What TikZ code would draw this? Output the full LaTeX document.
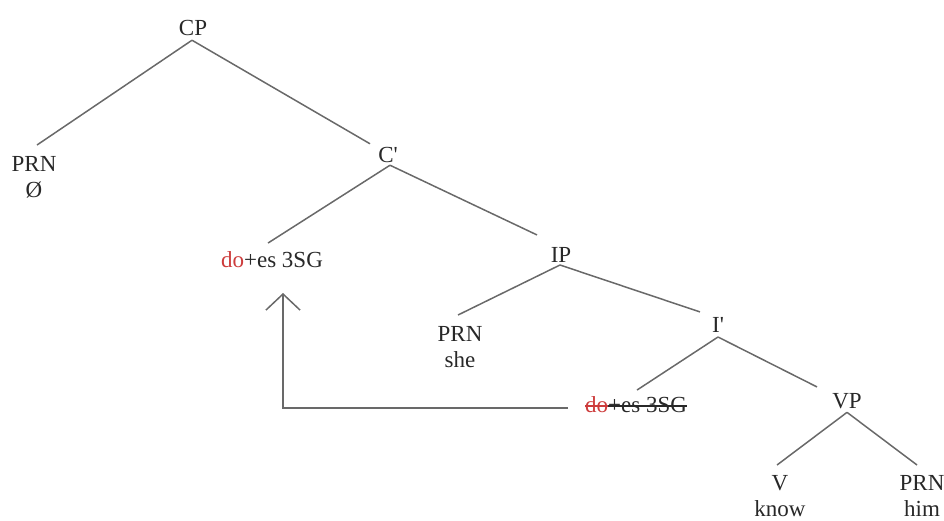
\documentclass[tikz,border=0pt]{standalone}
\usepackage{fontspec}
\setmainfont{Liberation Serif}
\usetikzlibrary{arrows.meta}
\definecolor{edgegray}{RGB}{105,105,105}
\definecolor{movered}{RGB}{205,60,60}
\definecolor{textdark}{RGB}{40,40,40}
\newcommand{\mystrike}[1]{\setbox0\hbox{#1}\rlap{\usebox0}\rule[5.5pt]{\wd0}{1.3pt}}
\tikzset{
  lbl/.style={font=\fontsize{23}{26}\selectfont, text=textdark, inner sep=0pt, outer sep=0pt},
  lbltwo/.style={lbl, align=center, anchor=north},
  branch/.style={draw=edgegray, line width=1.5pt},
  movearrow/.style={draw=edgegray, line width=1.5pt, -{Straight Barb[length=16pt,width=34pt,line width=1.5pt]}}
}
\begin{document}
\begin{tikzpicture}[x=1pt,y=-1pt]
\useasboundingbox (0,0) rectangle (944,520);
% nodes
\node[lbl, anchor=base] (CP) at (193,35) {CP};
\node[lbltwo] (PRNa) at (34,156) {PRN\\Ø};
\node[lbl, anchor=base] (Cbar) at (388,162) {C\textquotesingle};
\node[lbl, anchor=base] (doA) at (272,267) {\textcolor{movered}{do}+es 3SG};
\node[lbl, anchor=base] (IP) at (561,262) {IP};
\node[lbltwo] (PRNb) at (460,326) {PRN\\she};
\node[lbl, anchor=base] (Ibar) at (718,332) {I\textquotesingle};
\node[lbl, anchor=base] (doB) at (636,412) {\textcolor{movered}{\mystrike{do}}\mystrike{+es 3SG}};
\node[lbl, anchor=base] (VP) at (847,408) {VP};
\node[lbltwo] (Vk) at (780,475) {V\\know};
\node[lbltwo] (PRNc) at (922,475) {PRN\\him};
\coordinate (tip) at (283,293);
% branches
\draw[branch] ([xshift=-1pt,yshift=-5pt]CP.south) -- ([xshift=3pt,yshift=11pt]PRNa.north);
\draw[branch] ([xshift=-1pt,yshift=-5pt]CP.south) -- ([xshift=-18pt,yshift=3pt]Cbar.north);
\draw[branch] ([xshift=2pt,yshift=-3pt]Cbar.south) -- ([xshift=-4pt,yshift=8pt]doA.north);
\draw[branch] ([xshift=2pt,yshift=-3pt]Cbar.south) -- ([xshift=-24pt,yshift=12pt]IP.north);
\draw[branch] ([xshift=-1pt,yshift=-3pt]IP.south) -- ([xshift=-2pt,yshift=11pt]PRNb.north);
\draw[branch] ([xshift=-1pt,yshift=-3pt]IP.south) -- ([xshift=-18pt,yshift=5pt]Ibar.north);
\draw[branch] ([yshift=-5pt]Ibar.south) -- ([xshift=1pt,yshift=6pt]doB.north);
\draw[branch] ([yshift=-5pt]Ibar.south) -- ([xshift=-30pt,yshift=6pt]VP.north);
\draw[branch] ([yshift=-4pt]VP.south) -- ([xshift=-3pt,yshift=10pt]Vk.north);
\draw[branch] ([yshift=-4pt]VP.south) -- ([xshift=-5pt,yshift=10pt]PRNc.north);
% movement arrow
\draw[movearrow] ([xshift=-17pt,yshift=-4pt]doB.west) -| (tip);
\end{tikzpicture}
\end{document}
